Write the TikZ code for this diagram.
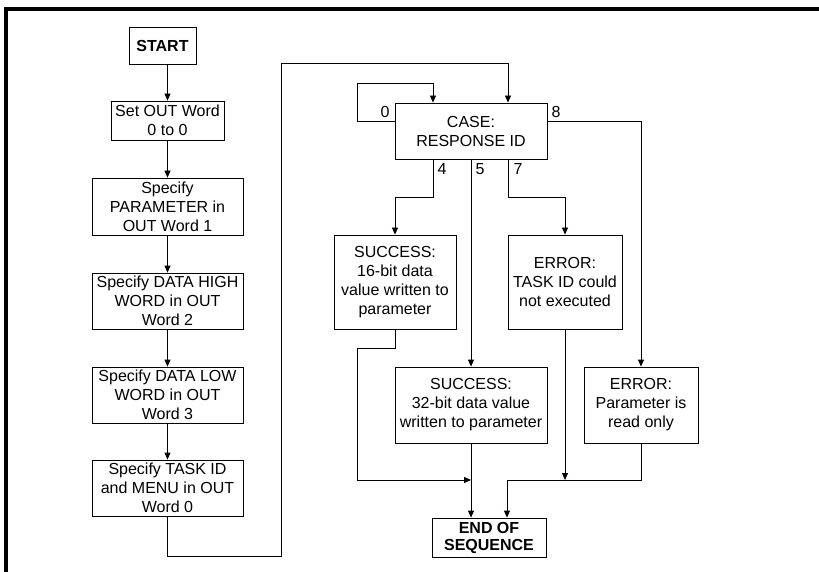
\documentclass[tikz,border=0pt]{standalone}
\usepackage{fontspec}
\setmainfont{Liberation Sans}
\usetikzlibrary{arrows.meta}

\begin{document}
\begin{tikzpicture}[x=1pt,y=-1pt,line width=0.8pt,font=\fontsize{16}{19}\selectfont]
  \tikzset{flow box/.style={draw,rectangle,align=center,inner sep=0pt,minimum width=#1},
           flow/.style={-{Triangle[length=7pt,width=6pt]}}}
  \useasboundingbox (0,0) rectangle (819,572);
  \draw[line width=4pt] (6,572) -- (6,9) -- (819,9);

  % left column
  \node [flow box=67pt,minimum height=37pt,font=\fontsize{16}{19}\selectfont\bfseries] (start) at (162.5,45.5) {START};
  \node [flow box=113pt,minimum height=39pt] (setout) at (167.5,120.5) {Set OUT Word\\0 to 0};
  \node [flow box=151pt,minimum height=57pt] (param) at (167.5,206.5) {Specify\\PARAMETER in\\OUT Word 1};
  \node [flow box=151pt,minimum height=56pt] (high) at (167.5,301) {Specify DATA HIGH\\WORD in OUT\\Word 2};
  \node [flow box=151pt,minimum height=56pt] (low) at (167.5,395) {Specify DATA LOW\\WORD in OUT\\Word 3};
  \node [flow box=151pt,minimum height=56pt] (task) at (167.5,488) {Specify TASK ID\\and MENU in OUT\\Word 0};

  % right part
  \node [flow box=152pt,minimum height=56pt] (case) at (471,131) {CASE:\\RESPONSE ID};
  \node [flow box=122pt,minimum height=94pt] (s16) at (395,282) {SUCCESS:\\16-bit data\\value written to\\parameter};
  \node [flow box=114pt,minimum height=94pt] (etask) at (565,282) {ERROR:\\TASK ID could\\not executed};
  \node [flow box=152pt,minimum height=76pt] (s32) at (471,405) {SUCCESS:\\32-bit data value\\written to parameter};
  \node [flow box=114pt,minimum height=76pt] (epar) at (641,405) {ERROR:\\Parameter is\\read only};
  \node [flow box=114pt,minimum height=39pt,font=\fontsize{16}{17}\selectfont\bfseries] (endseq) at (489,537.5) {END OF\\SEQUENCE};

  \node (lab0) at (385,112) {0};
  \node (lab8) at (556,112) {8};
  \node (lab4) at (442,169) {4};
  \node (lab5) at (480,169) {5};
  \node (lab7) at (518,169) {7};

  \coordinate (back) at (281,63);
  \coordinate (j5) at (471,480);
  \coordinate (j7) at (507,480);

  \draw[flow] (start.south -| setout.north) -- (setout.north);
  \draw[flow] (setout) -- (param);
  \draw[flow] (param) -- (high);
  \draw[flow] (high) -- (low);
  \draw[flow] (low) -- (task);
  \draw[flow] (task.south) -- ++(0,40) -| (back) -| ([xshift=37pt]case.north);

  \draw[flow] ([yshift=10pt]case.west) -| (357,83) -| ([xshift=-38pt]case.north);
  \draw[flow] ([yshift=10pt]case.east) -| (epar.north);
  \draw[flow] ([xshift=-38pt]case.south) -- ++(0,38) -| (s16.north);
  \draw[flow] (case.south) -- (s32.north);
  \draw[flow] ([xshift=37pt]case.south) -- ++(0,38) -| (etask.north);

  \draw[flow] (s16.south) -- ++(0,19) -- ++(-38,0) |- (j5);
  \draw[flow] (s32.south) -- (s32.south |- endseq.north);
  \draw[flow] (etask.south) -- (etask.south |- j7);
  \draw[flow] (epar.south) |- (j7) -- (j7 |- endseq.north);
\end{tikzpicture}
\end{document}
